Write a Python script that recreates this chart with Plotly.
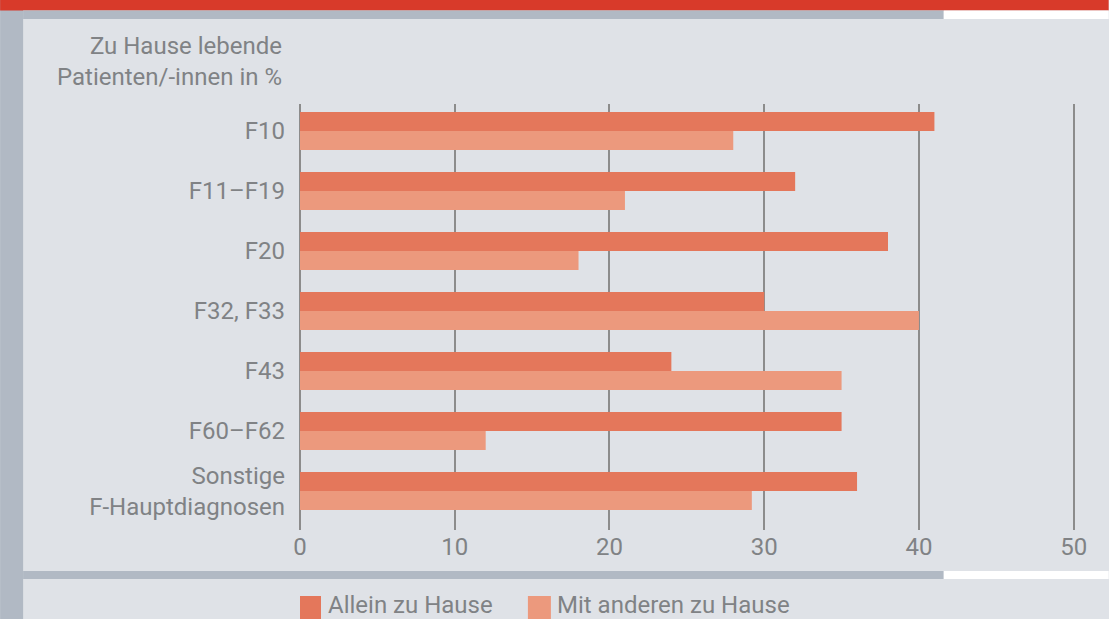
import plotly.graph_objects as go

categories = ["F10", "F11–F19", "F20", "F32, F33", "F43", "F60–F62", "Sonstige<br>F-Hauptdiagnosen"]
allein = [41, 32, 38, 30, 24, 35, 36]
mit_anderen = [28, 21, 18, 40, 35, 12, 29.2]
series_names = ["Allein zu Hause", "Mit anderen zu Hause"]
x_ticks = [0, 10, 20, 30, 40, 50]
y_title = "Zu Hause lebende<br>Patienten/-innen in %"

W, H = 1109, 619
XMAX = 50.15
L, T, B = 300, 104, 530
R = L + (1074 - 300) * XMAX / 50
FONT = "Roboto"
FS = 24
TXT = "#808285"
BG = "#dfe2e7"
STRIP = "#b1b9c4"
RED = "#d83a2a"
C1 = "#e4775b"
C2 = "#ec997d"
GRID = "#8c8c8c"


def px(x):
    return (x - L) / (R - L)


def py(y):
    return (B - y) / (B - T)


fig = go.Figure()
fig.add_trace(go.Bar(y=categories, x=allein, orientation="h", name=series_names[0],
                     marker=dict(color=C1, line=dict(width=0)), showlegend=False))
fig.add_trace(go.Bar(y=categories, x=mit_anderen, orientation="h", name=series_names[1],
                     marker=dict(color=C2, line=dict(width=0)), showlegend=False))

shapes = []


def rect(x0, y0, x1, y1, color):
    shapes.append(dict(type="rect", xref="paper", yref="paper",
                       x0=px(x0), x1=px(x1), y0=py(y0), y1=py(y1),
                       fillcolor=color, line=dict(width=0), layer="below"))


# left strip
rect(0, 0, 23, H, STRIP)
# top red band
rect(0, 0, W, 10.5, RED)
# grey/white band under header
rect(23, 10.5, 944, 19, STRIP)
rect(944, 10.5, W, 19, "white")
# bottom separator band
rect(23, 571, 944, 579, STRIP)
rect(944, 571, W, 579, "white")
# legend squares
rect(300, 596, 321, 619, C1)
rect(528, 596, 551, 619, C2)

annotations = [
    dict(text=y_title, xref="paper", yref="paper", x=px(284), y=py(62),
         xanchor="right", yanchor="middle", align="right", showarrow=False,
         font=dict(family=FONT, size=FS, color=TXT)),
    dict(text=series_names[0], xref="paper", yref="paper", x=px(326), y=py(605),
         xanchor="left", yanchor="middle", showarrow=False,
         font=dict(family=FONT, size=FS, color=TXT)),
    dict(text=series_names[1], xref="paper", yref="paper", x=px(555), y=py(605),
         xanchor="left", yanchor="middle", showarrow=False,
         font=dict(family=FONT, size=FS, color=TXT)),
]

fig.update_layout(
    width=W, height=H,
    margin=dict(l=L, r=W - R, t=T, b=H - B, pad=0),
    paper_bgcolor=BG, plot_bgcolor="rgba(0,0,0,0)",
    barmode="group", bargap=0.367, bargroupgap=0,
    font=dict(family=FONT, size=FS, color=TXT),
    shapes=shapes, annotations=annotations,
    showlegend=False,
    xaxis=dict(range=[0, XMAX], tickvals=x_ticks, showgrid=True, gridcolor=GRID,
               gridwidth=2, zeroline=True, zerolinecolor=GRID, zerolinewidth=2,
               showline=False, ticks="", fixedrange=True,
               tickfont=dict(family=FONT, size=FS, color=TXT)),
    yaxis=dict(range=[6.65, -0.45], showgrid=False, zeroline=False, showline=False,
               ticks="", ticklabelstandoff=14,
               tickfont=dict(family=FONT, size=FS, color=TXT)),
)

fig.write_html("out.html", config={"displayModeBar": False},
               post_script="document.body.style.margin='0';document.body.style.overflow='hidden';")
